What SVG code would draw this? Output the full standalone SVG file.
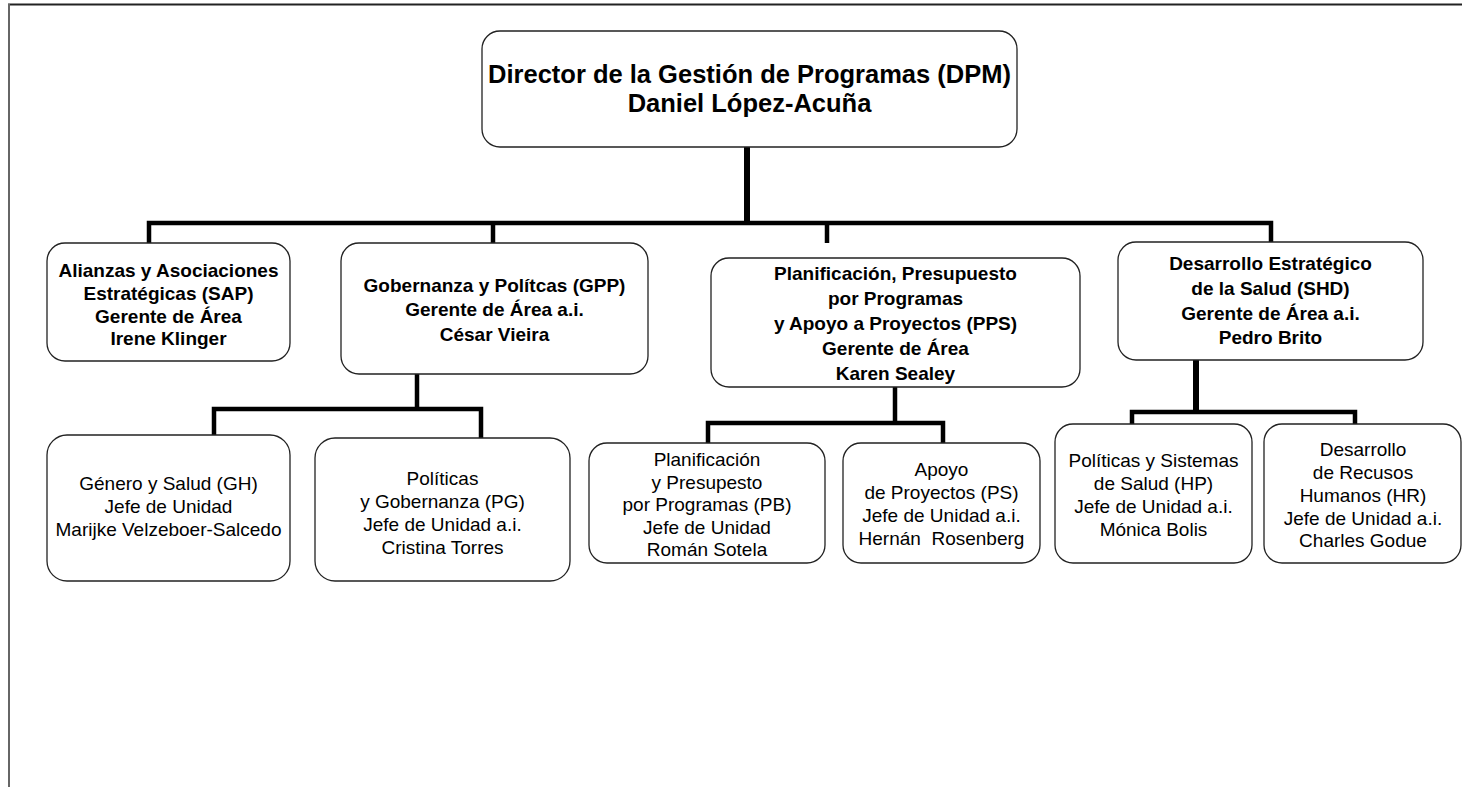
<svg xmlns="http://www.w3.org/2000/svg" width="1462" height="787" viewBox="0 0 1462 787">
<style>
.box{fill:#fff;stroke:#222;stroke-width:1.3}
.c{fill:none;stroke:#000;stroke-width:4.5;stroke-linejoin:miter;stroke-linecap:butt}
.t0{font-family:"Liberation Sans",Arial,sans-serif;font-weight:bold;font-size:25.5px;fill:#000;text-anchor:middle}
.t1{font-family:"Liberation Sans",Arial,sans-serif;font-weight:bold;font-size:19px;fill:#000;text-anchor:middle}
.t2{font-family:"Liberation Sans",Arial,sans-serif;font-size:19px;fill:#000;text-anchor:middle;white-space:pre}
</style>
<rect x="0" y="0" width="1462" height="787" fill="#fff"/>
<g id="frame">
<line x1="8" y1="4.5" x2="1462" y2="4.5" stroke="#222" stroke-width="2"/>
<line x1="9" y1="4" x2="9" y2="787" stroke="#666" stroke-width="2"/>
</g>
<g id="connectors">
<path class="c" d="M747 147V223" style="stroke-width:6"/>
<path class="c" d="M149 243V223H1271V242"/>
<path class="c" d="M493 223V243"/>
<path class="c" d="M827 223V243"/>
<path class="c" d="M417 374V409"/>
<path class="c" d="M214 435V409H481V438"/>
<path class="c" d="M895 387V423"/>
<path class="c" d="M708 443V423H943V443"/>
<path class="c" d="M1196 360V412" style="stroke-width:6"/>
<path class="c" d="M1132 424V412H1355V424"/>
</g>
<g id="dpm">
<rect class="box" x="482" y="31" width="535" height="116" rx="18"/>
<text class="t0" x="749.5" y="83">Director de la Gestión de Programas (DPM)</text>
<text class="t0" x="749.5" y="112">Daniel López-Acuña</text>
</g>
<g id="sap">
<rect class="box" x="47" y="243" width="243" height="118" rx="18"/>
<text class="t1" x="168.5" y="277">Alianzas y Asociaciones</text>
<text class="t1" x="168.5" y="300">Estratégicas (SAP)</text>
<text class="t1" x="168.5" y="323">Gerente de Área</text>
<text class="t1" x="168.5" y="345">Irene Klinger</text>
</g>
<g id="gpp">
<rect class="box" x="341" y="243" width="307" height="131" rx="18"/>
<text class="t1" x="494.5" y="292">Gobernanza y Polítcas (GPP)</text>
<text class="t1" x="494.5" y="316">Gerente de Área a.i.</text>
<text class="t1" x="494.5" y="341">César Vieira</text>
</g>
<g id="pps">
<rect class="box" x="711" y="258" width="369" height="129" rx="18"/>
<text class="t1" x="895.5" y="280">Planificación, Presupuesto</text>
<text class="t1" x="895.5" y="305">por Programas</text>
<text class="t1" x="895.5" y="329.5">y Apoyo a Proyectos (PPS)</text>
<text class="t1" x="895.5" y="355">Gerente de Área</text>
<text class="t1" x="895.5" y="379.5">Karen Sealey</text>
</g>
<g id="shd">
<rect class="box" x="1118" y="242" width="305" height="118" rx="18"/>
<text class="t1" x="1270.5" y="270">Desarrollo Estratégico</text>
<text class="t1" x="1270.5" y="295">de la Salud (SHD)</text>
<text class="t1" x="1270.5" y="320">Gerente de Área a.i.</text>
<text class="t1" x="1270.5" y="344">Pedro Brito</text>
</g>
<g id="gh">
<rect class="box" x="47" y="435" width="243" height="146" rx="20"/>
<text class="t2" x="168.5" y="490">Género y Salud (GH)</text>
<text class="t2" x="168.5" y="513">Jefe de Unidad</text>
<text class="t2" x="168.5" y="536">Marijke Velzeboer-Salcedo</text>
</g>
<g id="pg">
<rect class="box" x="315" y="438" width="255" height="143" rx="20"/>
<text class="t2" x="442.5" y="485">Políticas</text>
<text class="t2" x="442.5" y="508">y Gobernanza (PG)</text>
<text class="t2" x="442.5" y="531">Jefe de Unidad a.i.</text>
<text class="t2" x="442.5" y="554">Cristina Torres</text>
</g>
<g id="pb">
<rect class="box" x="589" y="443" width="236" height="120" rx="18"/>
<text class="t2" x="707" y="466">Planificación</text>
<text class="t2" x="707" y="488.5">y Presupesto</text>
<text class="t2" x="707" y="511">por Programas (PB)</text>
<text class="t2" x="707" y="533.5">Jefe de Unidad</text>
<text class="t2" x="707" y="556">Román Sotela</text>
</g>
<g id="ps">
<rect class="box" x="843" y="443" width="197" height="120" rx="18"/>
<text class="t2" x="941.5" y="476">Apoyo</text>
<text class="t2" x="941.5" y="499">de Proyectos (PS)</text>
<text class="t2" x="941.5" y="522">Jefe de Unidad a.i.</text>
<text class="t2" x="941.5" y="544.5" xml:space="preserve">Hernán  Rosenberg</text>
</g>
<g id="hp">
<rect class="box" x="1055" y="424" width="197" height="139" rx="18"/>
<text class="t2" x="1153.5" y="467">Políticas y Sistemas</text>
<text class="t2" x="1153.5" y="490">de Salud (HP)</text>
<text class="t2" x="1153.5" y="513">Jefe de Unidad a.i.</text>
<text class="t2" x="1153.5" y="536">Mónica Bolis</text>
</g>
<g id="hr">
<rect class="box" x="1264" y="424" width="197" height="139" rx="18"/>
<text class="t2" x="1363" y="456">Desarrollo</text>
<text class="t2" x="1363" y="479">de Recusos</text>
<text class="t2" x="1363" y="502">Humanos (HR)</text>
<text class="t2" x="1363" y="524.5">Jefe de Unidad a.i.</text>
<text class="t2" x="1363" y="547">Charles Godue</text>
</g>
</svg>
